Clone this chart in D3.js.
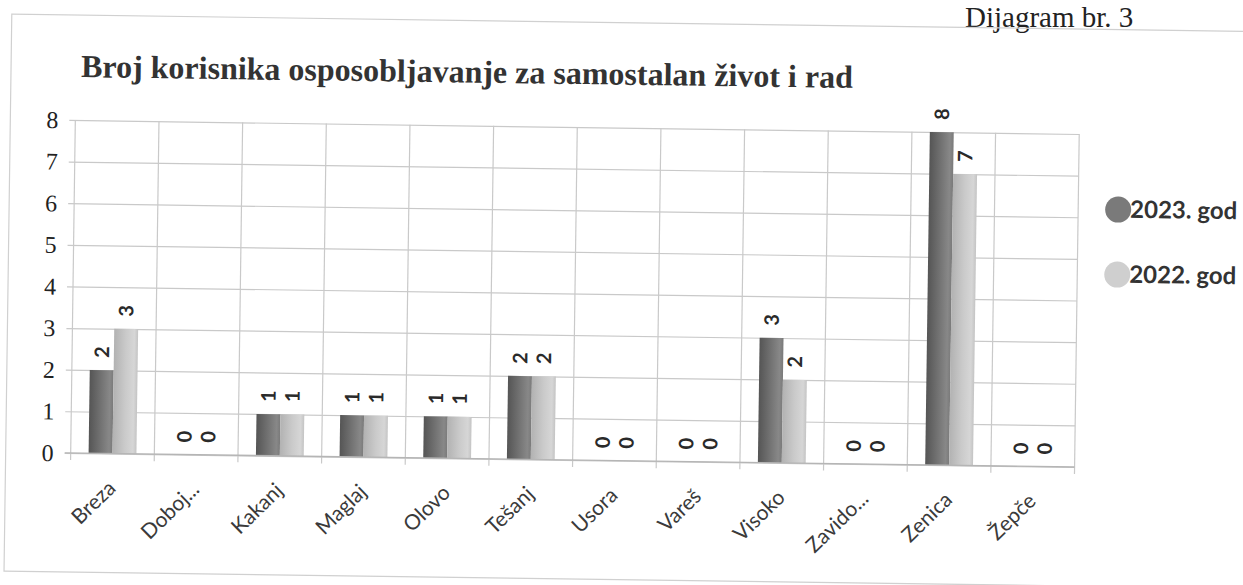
<!DOCTYPE html>
<html>
<head>
<meta charset="utf-8">
<script src="https://cdn.jsdelivr.net/npm/d3@7"></script>
<style>
  body { margin: 0; background: #fff; }
  svg { display: block; }
</style>
</head>
<body>
<svg id="chart"></svg>
<script>
const categories = ['Breza', 'Doboj...', 'Kakanj', 'Maglaj', 'Olovo', 'Tešanj', 'Usora', 'Vareš', 'Visoko', 'Zavido...', 'Zenica', 'Žepče'];
const seriesNames = ['2023. god', '2022. god'];
const values2023 = [2, 0, 1, 1, 1, 2, 0, 0, 3, 0, 8, 0];
const values2022 = [3, 0, 1, 1, 1, 2, 0, 0, 2, 0, 7, 0];
const yTicks = [0, 1, 2, 3, 4, 5, 6, 7, 8];

const width = 1243, height = 585;
const plot = { left: 73, right: 1077, top: 127, bottom: 460 };

const svg = d3.select('#chart').attr('width', width).attr('height', height);

// gradients for the bars, a bit of shading like the scanned original
const defs = svg.append('defs');
const grads = [
  { id: 'g2023', stops: [['0%', '#555555'], ['45%', '#707070'], ['85%', '#888888'], ['100%', '#7a7a7a']] },
  { id: 'g2022', stops: [['0%', '#b2b2b2'], ['50%', '#cacaca'], ['85%', '#d6d6d6'], ['100%', '#c4c4c4']] }
];
grads.forEach(g => {
  const lg = defs.append('linearGradient').attr('id', g.id).attr('x1', '0%').attr('x2', '100%');
  g.stops.forEach(s => lg.append('stop').attr('offset', s[0]).attr('stop-color', s[1]));
});

// header outside the scanned frame
svg.append('text')
  .attr('x', 965).attr('y', 27)
  .attr('font-family', 'Liberation Serif')
  .attr('font-size', 29)
  .attr('fill', '#222')
  .text('Dijagram br. 3');

// the whole scan is slightly tilted
const root = svg.append('g').attr('transform', 'rotate(0.8, 575, 290)');

root.append('rect')
  .attr('x', 8).attr('y', 22).attr('width', 1240).attr('height', 557)
  .attr('fill', 'none').attr('stroke', '#d0d0d0').attr('stroke-width', 1.2);

root.append('text')
  .attr('x', 78).attr('y', 84)
  .attr('font-family', 'Liberation Serif')
  .attr('font-weight', 'bold')
  .attr('font-size', 32)
  .attr('fill', '#333')
  .text('Broj korisnika osposobljavanje za samostalan život i rad');

const x = d3.scaleBand().domain(categories).range([plot.left, plot.right]);
const xs = d3.scaleBand().domain(seriesNames).range([0, x.bandwidth()]).paddingInner(0).paddingOuter(0.75);
const y = d3.scaleLinear().domain([0, 8]).range([plot.bottom, plot.top]);

// horizontal gridlines
root.append('g')
  .attr('transform', `translate(${plot.left},0)`)
  .call(d3.axisLeft(y).tickValues(yTicks).tickSize(-(plot.right - plot.left)).tickSizeOuter(0).tickFormat(''))
  .call(g => g.select('.domain').remove())
  .call(g => g.selectAll('line').attr('stroke', '#c9c9c9').attr('stroke-width', 1.2).attr('x1', -6));

// vertical gridlines at category boundaries
const bounds = categories.map(c => x(c)).concat([plot.right]);
root.append('g').selectAll('line').data(bounds).join('line')
  .attr('x1', d => d).attr('x2', d => d)
  .attr('y1', plot.top).attr('y2', plot.bottom + 7)
  .attr('stroke', '#c9c9c9').attr('stroke-width', 1.2);

// y tick labels
root.append('g').selectAll('text').data(yTicks).join('text')
  .attr('x', 56).attr('y', d => y(d))
  .attr('dy', '0.35em')
  .attr('text-anchor', 'end')
  .attr('font-family', 'Liberation Serif')
  .attr('font-size', 24)
  .attr('fill', '#222')
  .text(d => d);

// bars
const rows = categories.map((c, i) => ({ cat: c, vals: [values2023[i], values2022[i]] }));
const groups = root.append('g').selectAll('g').data(rows).join('g')
  .attr('transform', d => `translate(${x(d.cat)},0)`);

groups.selectAll('rect').data(d => d.vals.map((v, j) => ({ v, s: seriesNames[j], j }))).join('rect')
  .attr('x', d => xs(d.s))
  .attr('y', d => y(d.v))
  .attr('width', xs.bandwidth())
  .attr('height', d => y(0) - y(d.v))
  .attr('fill', d => d.j === 0 ? 'url(#g2023)' : 'url(#g2022)');

// value labels, rotated like the original
groups.selectAll('text').data(d => d.vals.map((v, j) => ({ v, s: seriesNames[j] }))).join('text')
  .attr('transform', d => `translate(${xs(d.s) + xs.bandwidth() / 2},${y(d.v) - 18}) rotate(-90)`)
  .attr('text-anchor', 'middle')
  .attr('dy', '0.35em')
  .attr('font-family', 'Lato')
  .attr('font-weight', 'bold')
  .attr('font-size', 20)
  .attr('fill', '#2a2a2a')
  .text(d => d.v);

// baseline
root.append('line')
  .attr('x1', plot.left - 6).attr('x2', plot.right)
  .attr('y1', y(0)).attr('y2', y(0))
  .attr('stroke', '#b5b5b5').attr('stroke-width', 1.4);

// category labels
root.append('g').selectAll('text').data(categories).join('text')
  .attr('transform', d => `translate(${x(d) + x.bandwidth() / 2 + 5},${plot.bottom + 36}) rotate(-45)`)
  .attr('text-anchor', 'end')
  .attr('font-family', 'Lato')
  .attr('font-size', 21)
  .attr('fill', '#3a3a3a')
  .text(d => d);

// legend
const legendColors = ['#7a7a7a', '#cfcfcf'];
const legend = root.append('g').selectAll('g').data(seriesNames).join('g')
  .attr('transform', (d, i) => `translate(1117,${202 + i * 65})`);
legend.append('circle').attr('r', 13).attr('fill', (d, i) => legendColors[i]);
legend.append('text')
  .attr('x', 12).attr('y', 8)
  .attr('font-family', 'Lato')
  .attr('font-weight', 'bold')
  .attr('font-size', 24)
  .attr('fill', '#333')
  .text(d => d);
</script>
</body>
</html>
